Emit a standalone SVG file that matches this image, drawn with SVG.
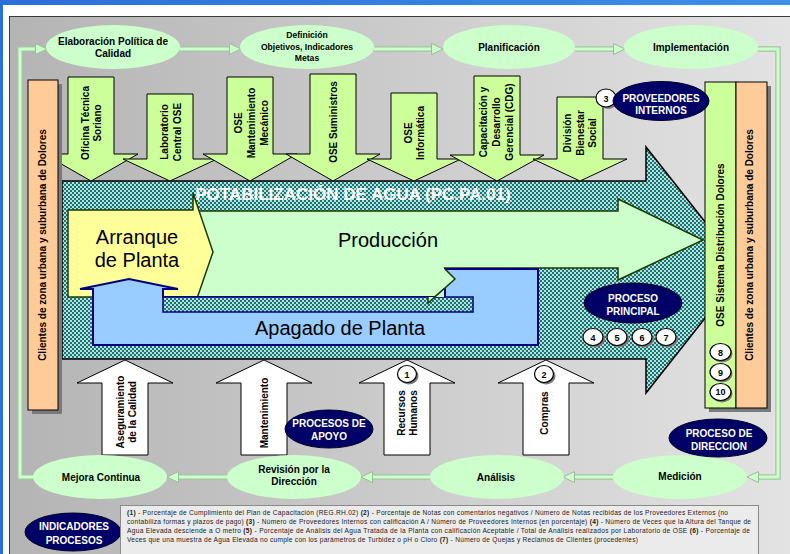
<svg xmlns="http://www.w3.org/2000/svg" width="790" height="554" viewBox="0 0 790 554">
<defs>
  <linearGradient id="bg" x1="0" y1="0" x2="1" y2="0">
    <stop offset="0" stop-color="#b4b4b4"/>
    <stop offset="1" stop-color="#e4e4e4"/>
  </linearGradient>
  <linearGradient id="win" x1="0" y1="0" x2="1" y2="0">
    <stop offset="0" stop-color="#2a6fd8"/>
    <stop offset="1" stop-color="#3d8fe8"/>
  </linearGradient>
  <pattern id="chk" width="4" height="4" patternUnits="userSpaceOnUse">
    <rect width="4" height="4" fill="#cfd4d4"/>
    <rect width="2" height="2" fill="#00807a"/>
    <rect x="2" y="2" width="2" height="2" fill="#00807a"/>
  </pattern>
  <marker id="ah" markerWidth="13" markerHeight="13" refX="4" refY="6" orient="auto" markerUnits="userSpaceOnUse">
    <path d="M0.5,0.5 L12,6 L0.5,11.5 Z" fill="#ccffcc" stroke="#98bc98" stroke-width="1"/>
  </marker>
</defs>
<style>
  text{font-family:"Liberation Sans",Arial,Helvetica,sans-serif;}
  .lb{font-weight:bold;font-size:10px;fill:#000;text-anchor:middle;}
  .sm{font-size:8.6px;}
  .wh{font-weight:bold;font-size:10px;fill:#fff;text-anchor:middle;}
  .big{font-size:20px;fill:#000;text-anchor:middle;}
  .dn{fill:#ccff99;stroke:#000;stroke-width:1;}
  .up{fill:#fff;stroke:#000;stroke-width:1;}
  .ell{fill:#ccffcc;}
  .navy{fill:#000066;stroke:#000022;stroke-width:1;}
  .cb{fill:none;stroke:#a2c6a2;stroke-width:5.5;}
  .cf{fill:none;stroke:#ccffcc;stroke-width:3;marker-end:url(#ah);}
  .num{fill:#fff;stroke:#000;stroke-width:1.2;}
  .sh{fill:#7a7a7a;}
  .nt{font-weight:bold;font-size:9px;fill:#000;text-anchor:middle;}
  .ft{font-size:6.6px;fill:#222;}
  .ftb{font-weight:bold;}
</style>

<!-- window / background -->
<rect x="0" y="0" width="790" height="554" fill="#ffffff"/>
<rect x="0" y="0" width="790" height="5" fill="url(#win)"/>
<rect x="0" y="0" width="3" height="554" fill="#2a6fd8"/>
<rect x="9.5" y="16.5" width="800" height="560" fill="url(#bg)" stroke="#3a3a3a" stroke-width="1"/>

<!-- connectors: management cycle -->
<g id="connectors">
  <path class="cb" d="M34,477 H20 V49 H39"/>
  <path class="cf" d="M34,477 H20 V49 H39"/>
  <path class="cb" d="M180,49 H233"/>
  <path class="cf" d="M180,49 H233"/>
  <path class="cb" d="M374,49 H435"/>
  <path class="cf" d="M374,49 H435"/>
  <path class="cb" d="M575,49 H617"/>
  <path class="cf" d="M575,49 H617"/>
  <path class="cb" d="M758,49 H778 V477 H755"/>
  <path class="cf" d="M758,49 H778 V477 H755"/>
  <path class="cb" d="M613,477 H571"/>
  <path class="cf" d="M613,477 H571"/>
  <path class="cb" d="M430,477 H369"/>
  <path class="cf" d="M430,477 H369"/>
  <path class="cb" d="M228,477 H175"/>
  <path class="cf" d="M228,477 H175"/>
</g>

<!-- top cycle nodes -->
<g id="n-elaboracion">
  <ellipse class="ell" cx="113" cy="47" rx="67" ry="22"/>
  <text class="lb" x="113" y="45">Elaboración Política de</text>
  <text class="lb" x="113" y="57">Calidad</text>
</g>
<g id="n-definicion">
  <ellipse class="ell" cx="307" cy="47" rx="67" ry="22"/>
  <text class="lb sm" x="307" y="38">Definición</text>
  <text class="lb sm" x="307" y="50">Objetivos, Indicadores</text>
  <text class="lb sm" x="307" y="61">Metas</text>
</g>
<g id="n-planificacion">
  <ellipse class="ell" cx="509" cy="47" rx="66" ry="22"/>
  <text class="lb" x="509" y="51">Planificación</text>
</g>
<g id="n-implementacion">
  <ellipse class="ell" cx="691" cy="47" rx="67" ry="22"/>
  <text class="lb" x="691" y="51">Implementación</text>
</g>

<!-- main process arrow -->
<g id="n-potabilizacion">
  <path d="M62,181 H646 V147 L743,270 L646,393 V359 H62 Z" fill="url(#chk)" stroke="#000" stroke-width="1.5"/>
  <text x="353" y="200" font-size="17" font-weight="bold" fill="#ffffff" text-anchor="middle">POTABILIZACIÓN DE AGUA (PC.PA.01)</text>
</g>

<!-- internal providers (down arrows) -->
<g id="n-oficina">
  <path class="dn" d="M68,77 H114 V154 H138 L91,181 L44,154 H68 Z"/>
  <text class="lb" transform="translate(89,123) rotate(-90)">Oficina Técnica</text>
  <text class="lb" transform="translate(101,123) rotate(-90)">Soriano</text>
</g>
<g id="n-laboratorio">
  <path class="dn" d="M147,94 H193 V159 H217 L170,181 L123,159 H147 Z"/>
  <text class="lb" transform="translate(168,132) rotate(-90)">Laboratorio</text>
  <text class="lb" transform="translate(181,132) rotate(-90)">Central OSE</text>
</g>
<g id="n-mantenimiento-mec">
  <path class="dn" d="M227,77 H273 V154 H297 L250,181 L203,154 H227 Z"/>
  <text class="lb" transform="translate(242,123) rotate(-90)">OSE</text>
  <text class="lb" transform="translate(255,123) rotate(-90)">Mantenimiento</text>
  <text class="lb" transform="translate(268,123) rotate(-90)">Mecánico</text>
</g>
<g id="n-suministros">
  <path class="dn" d="M310,74 H356 V154 H380 L333,181 L286,154 H310 Z"/>
  <text class="lb" transform="translate(337,122) rotate(-90)">OSE Suministros</text>
</g>
<g id="n-informatica">
  <path class="dn" d="M391,93 H437 V159 H461 L414,181 L367,159 H391 Z"/>
  <text class="lb" transform="translate(412,133) rotate(-90)">OSE</text>
  <text class="lb" transform="translate(424,133) rotate(-90)">Informática</text>
</g>
<g id="n-capacitacion">
  <path class="dn" d="M474,76 H520 V155 H544 L497,181 L450,155 H474 Z"/>
  <text class="lb" transform="translate(487,122) rotate(-90)">Capacitación y</text>
  <text class="lb" transform="translate(500,122) rotate(-90)">Desarrollo</text>
  <text class="lb" transform="translate(513,122) rotate(-90)">Gerencial (CDG)</text>
</g>
<g id="n-division">
  <path class="dn" d="M557,97 H603 V159 H627 L580,181 L533,159 H557 Z"/>
  <text class="lb" transform="translate(571,133) rotate(-90)">División</text>
  <text class="lb" transform="translate(584,133) rotate(-90)">Bienestar</text>
  <text class="lb" transform="translate(596,133) rotate(-90)">Social</text>
</g>

<!-- left clients -->
<g id="n-clientes-izq">
  <rect class="sh" x="32" y="84" width="30" height="330"/>
  <rect x="28" y="80" width="30" height="330" fill="#ffcc99" stroke="#000" stroke-width="1"/>
  <text class="lb" font-size="10.5" transform="translate(46,245) rotate(-90)">Clientes de zona urbana y suburbana de Dolores</text>
</g>

<!-- inner cycle: Producción / Arranque / Apagado -->
<g id="n-produccion">
  <path d="M193,211 H618 V199 L703,240 L618,280 V268 H445 L455,279 L428,303 V297 H193 Z" fill="#ccffcc" stroke="#1a3a00" stroke-width="1.5"/>
  <text class="big" x="388" y="247">Producción</text>
</g>
<g id="n-arranque">
  <path d="M68,210 H193 V193 L213,252 L193,310 V297 H68 Z" fill="#ffff99" stroke="#1a3a00" stroke-width="1.5"/>
  <text class="big" x="137" y="244">Arranque</text>
  <text class="big" x="137" y="267">de Planta</text>
</g>
<g id="n-apagado">
  <path d="M93,345 V289 H80 L129,279 L178,289 H163 V297 H445 V269 H538 V345 Z" fill="#99ccff" stroke="#000080" stroke-width="2"/>
  <rect x="163" y="297" width="310" height="15" fill="url(#chk)" stroke="#000080" stroke-width="1.5"/>
  <text class="big" x="340" y="335">Apagado de Planta</text>
</g>
<g id="produccion-tip">
  <path d="M444,268.8 L455,279 L428,303 V297 H444 Z" fill="#ccffcc"/>
  <path d="M445,269 L455,279 L428,303 V297" fill="none" stroke="#1a3a00" stroke-width="1.5"/>
</g>

<!-- support processes (up arrows) -->
<g id="n-aseguramiento">
  <path class="up" d="M125,360 L173,383 H148 V455 H102 V383 H77 Z"/>
  <text class="lb" transform="translate(124,412) rotate(-90)">Aseguramiento</text>
  <text class="lb" transform="translate(136,412) rotate(-90)">de la Calidad</text>
</g>
<g id="n-mantenimiento">
  <path class="up" d="M264,360 L312,383 H287 V455 H241 V383 H216 Z"/>
  <text class="lb" transform="translate(268,413) rotate(-90)">Mantenimiento</text>
</g>
<g id="n-rrhh">
  <path class="up" d="M407,360 L455,383 H430 V455 H384 V383 H359 Z"/>
  <text class="lb" transform="translate(405,413) rotate(-90)">Recursos</text>
  <text class="lb" transform="translate(417,413) rotate(-90)">Humanos</text>
</g>
<g id="n-compras">
  <path class="up" d="M546,360 L594,383 H569 V455 H523 V383 H498 Z"/>
  <text class="lb" transform="translate(548,413) rotate(-90)">Compras</text>
</g>

<!-- bottom cycle nodes -->
<g id="n-mejora">
  <ellipse class="ell" cx="100" cy="477" rx="67" ry="22"/>
  <text class="lb" x="101" y="481">Mejora Continua</text>
</g>
<g id="n-revision">
  <ellipse class="ell" cx="294" cy="477" rx="67" ry="22"/>
  <text class="lb" x="294" y="473">Revisión por la</text>
  <text class="lb" x="294" y="485">Dirección</text>
</g>
<g id="n-analisis">
  <ellipse class="ell" cx="497" cy="477" rx="67" ry="22"/>
  <text class="lb" x="496" y="481">Análisis</text>
</g>
<g id="n-medicion">
  <ellipse class="ell" cx="680" cy="477" rx="67" ry="22"/>
  <text class="lb" x="680" y="480">Medición</text>
</g>

<!-- right boxes -->
<g id="n-ose-distribucion">
  <rect class="sh" x="709" y="86" width="62" height="326"/>
  <rect x="705" y="82" width="31" height="326" fill="#ccff99" stroke="#000" stroke-width="1"/>
  <text class="lb" font-size="10.5" transform="translate(724,245) rotate(-90)">OSE Sistema Distribución Dolores</text>
</g>
<g id="n-clientes-der">
  <rect x="736" y="82" width="31" height="326" fill="#ffcc99" stroke="#000" stroke-width="1"/>
  <text class="lb" font-size="10.5" transform="translate(753,245) rotate(-90)">Clientes de zona urbana y suburbana de Dolores</text>
</g>

<!-- indicator number markers -->
<g id="n-ind-1"><ellipse class="sh" cx="409" cy="376" rx="9.5" ry="8.5"/><ellipse class="num" cx="407" cy="374" rx="9.5" ry="8.5"/><text class="nt" x="407" y="377.5">1</text></g>
<g id="n-ind-2"><ellipse class="sh" cx="546" cy="376" rx="9.5" ry="8.5"/><ellipse class="num" cx="544" cy="374" rx="9.5" ry="8.5"/><text class="nt" x="544" y="377.5">2</text></g>
<g id="n-ind-3"><ellipse class="sh" cx="608" cy="100" rx="10" ry="9"/><ellipse class="num" cx="606" cy="98" rx="10" ry="9"/><text class="nt" x="606" y="101.5">3</text></g>
<g id="n-ind-4"><ellipse class="sh" cx="595" cy="339" rx="10" ry="8.5"/><ellipse class="num" cx="593" cy="337" rx="10" ry="8.5"/><text class="nt" x="593" y="340.5">4</text></g>
<g id="n-ind-5"><ellipse class="sh" cx="619" cy="339" rx="10" ry="8.5"/><ellipse class="num" cx="617" cy="337" rx="10" ry="8.5"/><text class="nt" x="617" y="340.5">5</text></g>
<g id="n-ind-6"><ellipse class="sh" cx="644" cy="339" rx="10" ry="8.5"/><ellipse class="num" cx="642" cy="337" rx="10" ry="8.5"/><text class="nt" x="642" y="340.5">6</text></g>
<g id="n-ind-7"><ellipse class="sh" cx="668" cy="339" rx="10" ry="8.5"/><ellipse class="num" cx="666" cy="337" rx="10" ry="8.5"/><text class="nt" x="666" y="340.5">7</text></g>
<g id="n-ind-8"><ellipse class="sh" cx="722" cy="354" rx="10.5" ry="8.5"/><ellipse class="num" cx="720.5" cy="352" rx="10.5" ry="8.5"/><text class="nt" x="720.5" y="355.5">8</text></g>
<g id="n-ind-9"><ellipse class="sh" cx="722" cy="374" rx="10.5" ry="8.5"/><ellipse class="num" cx="720.5" cy="372" rx="10.5" ry="8.5"/><text class="nt" x="720.5" y="375.5">9</text></g>
<g id="n-ind-10"><ellipse class="sh" cx="722" cy="394" rx="10.5" ry="8.5"/><ellipse class="num" cx="720.5" cy="392" rx="10.5" ry="8.5"/><text class="nt" font-size="7.5" x="720.5" y="395">10</text></g>

<!-- category labels -->
<g id="n-proveedores-internos">
  <ellipse class="navy" cx="661" cy="101" rx="48" ry="19.5"/>
  <text class="wh" x="661" y="102">PROVEEDORES</text>
  <text class="wh" x="661" y="114">INTERNOS</text>
</g>
<g id="n-proceso-principal">
  <ellipse class="navy" cx="633" cy="303" rx="49" ry="20"/>
  <text class="wh" x="633" y="302">PROCESO</text>
  <text class="wh" x="633" y="315">PRINCIPAL</text>
</g>
<g id="n-procesos-apoyo">
  <ellipse class="navy" cx="329" cy="429" rx="44" ry="19"/>
  <text class="wh" font-size="10.5" x="329" y="427">PROCESOS DE</text>
  <text class="wh" font-size="10.5" x="329" y="440">APOYO</text>
</g>
<g id="n-proceso-direccion">
  <ellipse class="navy" cx="718" cy="438" rx="49" ry="19"/>
  <text class="wh" font-size="10.5" x="719" y="437">PROCESO  DE</text>
  <text class="wh" font-size="10.5" x="719" y="450">DIRECCION</text>
</g>
<g id="n-indicadores">
  <ellipse class="navy" cx="73" cy="532" rx="48" ry="19"/>
  <text class="wh" font-size="10.5" x="74" y="530">INDICADORES</text>
  <text class="wh" font-size="10.5" x="74" y="544">PROCESOS</text>
</g>

<!-- indicator legend -->
<g id="n-leyenda">
  <rect x="120.5" y="505.5" width="638" height="60" fill="#ebebeb" stroke="#8a8a8a" stroke-width="1"/>
  <text class="ft" x="127" y="515" textLength="601"><tspan class="ftb">(1)</tspan> - Porcentaje de Cumplimiento del Plan de Capacitación (REG.RH.02) <tspan class="ftb">(2)</tspan> - Porcentaje de Notas con comentarios negativos / Número de Notas recibidas de los Proveedores Externos (no</text>
  <text class="ft" x="127" y="524" textLength="624">contabiliza formas y plazos de pago) <tspan class="ftb">(3)</tspan> - Número de Proveedores Internos con calificación A / Número de Proveedores Internos (en porcentaje) <tspan class="ftb">(4)</tspan> - Número de Veces que la Altura del Tanque de</text>
  <text class="ft" x="127" y="533" textLength="623">Agua Elevada desciende a O metro <tspan class="ftb">(5)</tspan> -  Porcentaje de Análisis del Agua Tratada de la Planta con calificación Aceptable / Total de Análisis realizados por Laboratorio de OSE <tspan class="ftb">(6)</tspan> - Porcentaje de</text>
  <text class="ft" x="127" y="542" textLength="511">Veces que una muestra de Agua Elevada no cumple con los parámetros de Turbidez o pH o Cloro <tspan class="ftb">(7)</tspan> - Número de Quejas y Reclamos de Clientes (procedentes)</text>
</g>
</svg>
